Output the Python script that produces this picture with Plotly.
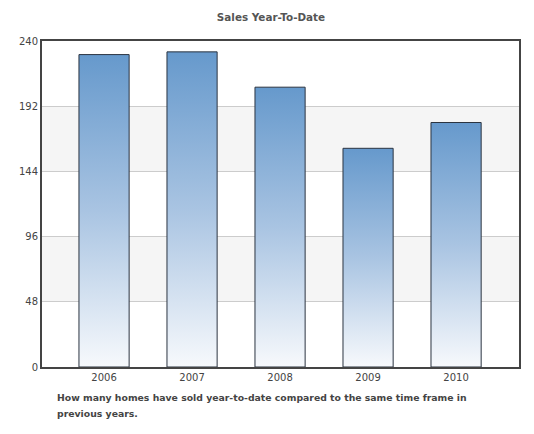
import plotly.graph_objects as go

years = ["2006", "2007", "2008", "2009", "2010"]
sales = [230, 232, 206, 161, 180]
y_ticks = [0, 48, 96, 144, 192, 240]
bands = [(48, 96), (144, 192)]
caption_lines = [
    "How many homes have sold year-to-date compared to the same time frame in",
    "previous years.",
]

BAR_WIDTH = 0.57
TOP_COLOR = "#6699cc"
BOTTOM_COLOR = "#f7f9fc"

fig = go.Figure()

for i, (year, value) in enumerate(zip(years, sales)):
    left = i - BAR_WIDTH / 2
    right = i + BAR_WIDTH / 2
    fig.add_trace(
        go.Scatter(
            x=[left, left, right, right, left],
            y=[0, value, value, 0, 0],
            mode="lines",
            fill="toself",
            fillgradient={
                "type": "vertical",
                "colorscale": [[0, BOTTOM_COLOR], [0.5, "#a9c4e2"], [1, TOP_COLOR]],
            },
            line={"color": "#2b3440", "width": 1},
            hovertemplate=f"{year}: {value}<extra></extra>",
            showlegend=False,
        )
    )

# alternating light bands behind the grid
shapes = [
    {
        "type": "rect", "xref": "paper", "yref": "y",
        "x0": 0, "x1": 1, "y0": lo, "y1": hi,
        "fillcolor": "#f5f5f5", "line": {"width": 0}, "layer": "below",
    }
    for lo, hi in bands
]

annotations = [
    {
        "text": f"<b>{line}</b>",
        "xref": "paper", "yref": "paper",
        "x": 0.027, "y": -0.072, "yshift": -16 * n,
        "xanchor": "left", "yanchor": "top",
        "align": "left", "showarrow": False,
        "font": {"size": 9.3, "color": "#444"},
    }
    for n, line in enumerate(caption_lines)
]

fig.update_layout(
    width=526,
    height=426,
    margin={"l": 34, "r": 15, "t": 33, "b": 67},
    paper_bgcolor="white",
    plot_bgcolor="white",
    font={"family": "DejaVu Sans, Verdana, sans-serif", "size": 10, "color": "#444"},
    title={
        "text": "<b>Sales Year-To-Date</b>",
        "x": 0.5, "xanchor": "center", "y": 0.979, "yanchor": "middle",
        "font": {"size": 10.4, "color": "#555"},
    },
    shapes=shapes,
    annotations=annotations,
    xaxis={
        "range": [-0.705, 4.715],
        "tickvals": list(range(len(years))),
        "ticktext": years,
        "showgrid": False,
        "zeroline": False,
        "showline": True, "linecolor": "#444", "linewidth": 2, "mirror": True,
        "ticks": "", "ticklen": 0,
        "fixedrange": True,
    },
    yaxis={
        "range": [0, 240],
        "tickvals": y_ticks,
        "showgrid": True, "gridcolor": "#cccccc", "gridwidth": 1,
        "zeroline": False,
        "showline": True, "linecolor": "#444", "linewidth": 2, "mirror": True,
        "ticks": "", "ticklen": 0,
        "fixedrange": True,
    },
)

fig.write_html("out.html")
